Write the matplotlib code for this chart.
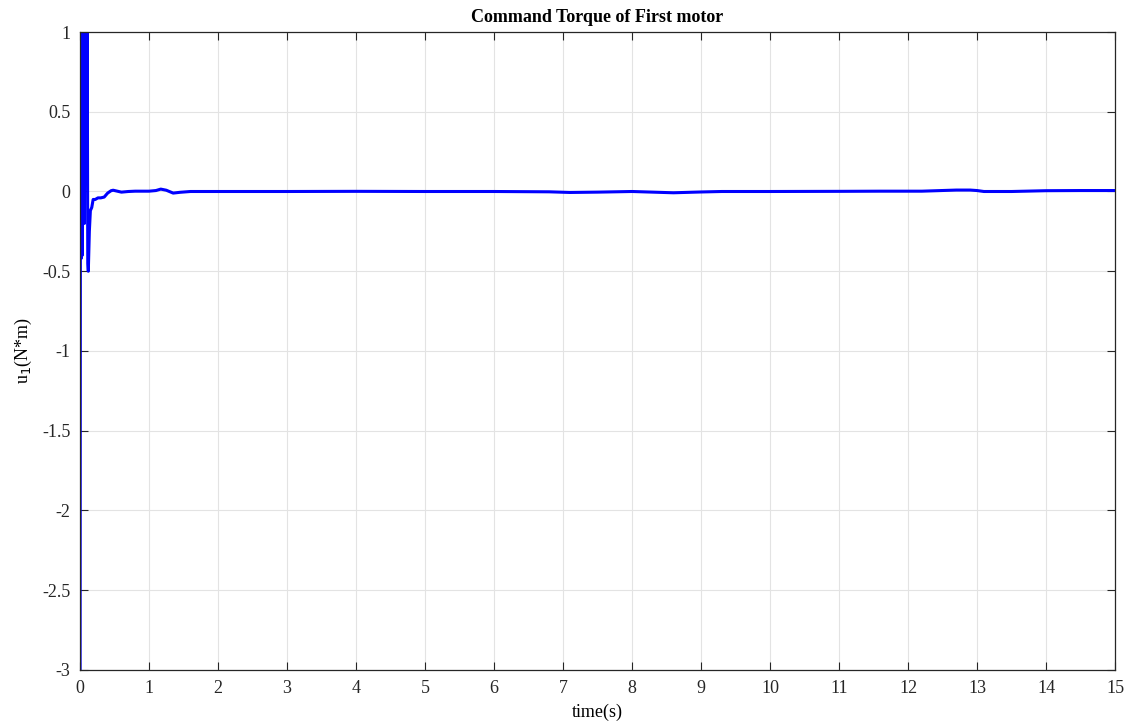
import matplotlib.pyplot as plt
import numpy as np

# time (s) and command torque u1 (N*m)
t = [0.0, 0.008, 0.016, 0.024, 0.032, 0.040, 0.048, 0.056, 0.064, 0.072,
     0.080, 0.088, 0.096, 0.104, 0.112, 0.120, 0.135, 0.150, 0.170, 0.190,
     0.220, 0.260, 0.300, 0.350, 0.400, 0.450, 0.480, 0.520, 0.600, 0.700,
     0.800, 1.000, 1.100, 1.170, 1.250, 1.350, 1.450, 1.600, 2.000, 2.600,
     3.000, 4.000, 5.000, 6.000, 6.800, 7.100, 7.500, 8.000, 8.300, 8.600,
     9.000, 9.300, 10.000, 11.000, 11.600, 12.200, 12.700, 12.900, 13.000,
     13.100, 13.500, 14.000, 14.500, 15.000]
u1 = [-3.6, 1.6, -0.42, 1.6, -0.40, 1.6, 1.2, 1.6, -0.2, 1.6,
      0.8, 1.4, 0.3, 1.1, -0.45, -0.50, -0.25, -0.12, -0.10, -0.05,
      -0.05, -0.04, -0.04, -0.035, -0.01, 0.005, 0.008, 0.004, -0.004, 0.0,
      0.002, 0.002, 0.006, 0.015, 0.008, -0.01, -0.005, 0.0, 0.0, 0.0,
      0.0, 0.001, 0.0, 0.0, -0.002, -0.006, -0.004, 0.0, -0.004, -0.008,
      -0.003, 0.0, 0.0, 0.001, 0.002, 0.002, 0.009, 0.009, 0.006,
      0.0, 0.0, 0.005, 0.006, 0.006]

plt.rcParams['font.family'] = ['Liberation Serif', 'DejaVu Serif']

fig = plt.figure(figsize=(11.32, 7.24), dpi=100)
ax = fig.add_axes([0.0707, 0.0746, 0.9143, 0.8812])

ax.plot(t, u1, color='#0000ff', linewidth=2.2)

ax.set_xlim(0, 15)
ax.set_ylim(-3, 1)
ax.set_xticks(np.arange(0, 16, 1))
ax.set_yticks([-3, -2.5, -2, -1.5, -1, -0.5, 0, 0.5, 1])
ax.set_yticklabels(['-3', '-2.5', '-2', '-1.5', '-1', '-0.5', '0', '0.5', '1'])
ax.grid(True, color='#e3e3e3', linewidth=0.8)
ax.tick_params(direction='in', top=True, right=True, labelsize=13,
               colors='#262626', length=6, pad=7)
for s in ax.spines.values():
    s.set_color('#262626')
    s.set_linewidth(0.9)

ax.set_title('Command Torque of First motor', fontsize=13, fontweight='bold', pad=7)
ax.set_xlabel('time(s)', fontsize=13, labelpad=5)
ax.set_ylabel('u$_1$(N*m)', fontsize=13, labelpad=6)

fig.savefig('out.png', dpi=100)
